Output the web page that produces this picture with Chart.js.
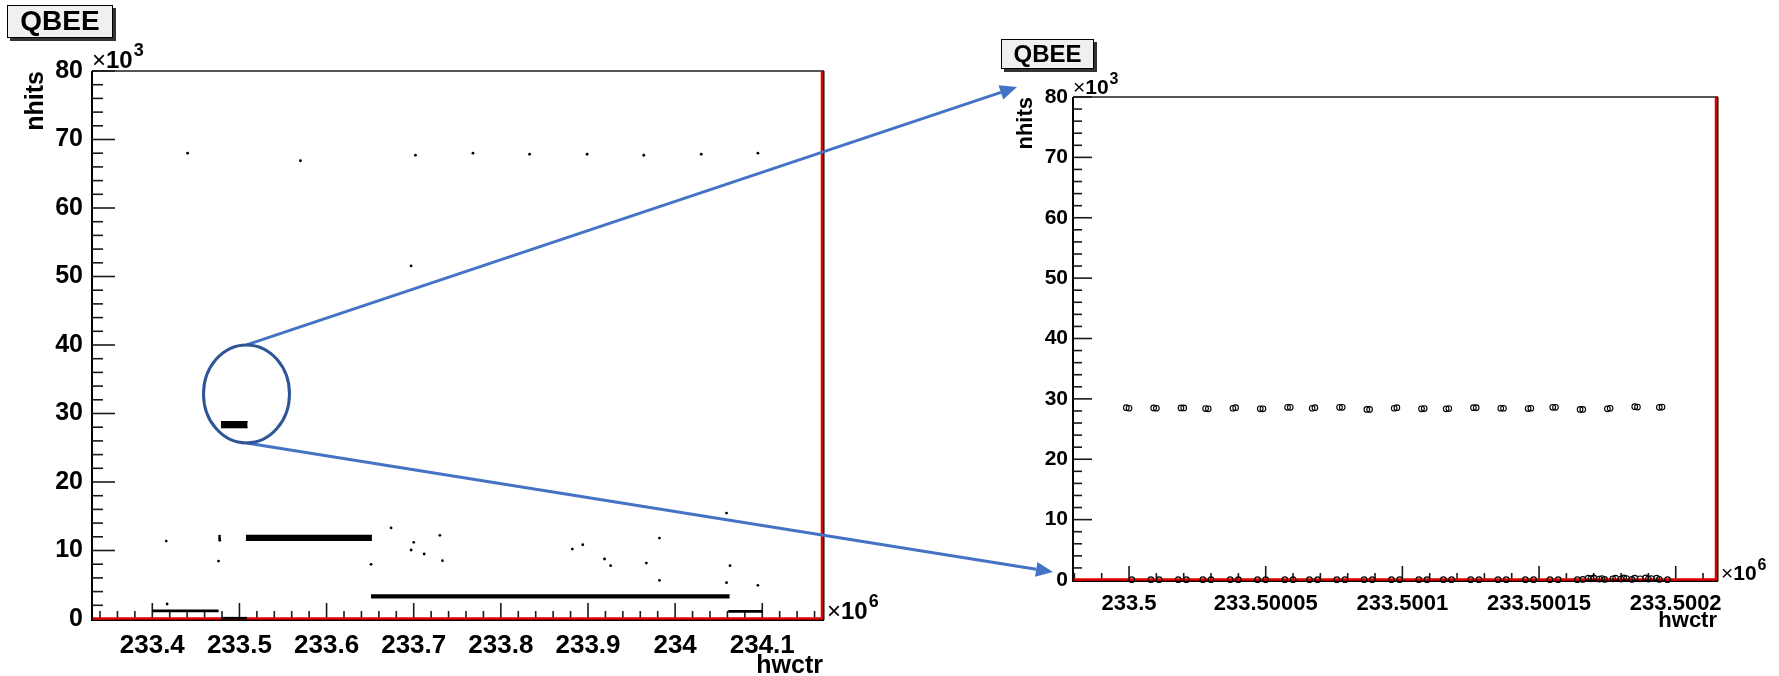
<!DOCTYPE html>
<html>
<head>
<meta charset="utf-8">
<script src="https://cdn.jsdelivr.net/npm/chart.js@4/dist/chart.umd.min.js"></script>
<style>
body{margin:0;background:#fff}
#wrap{position:relative;width:1779px;height:676px;overflow:hidden;background:#fff}
#wrap canvas{position:absolute;top:0}
#c1{left:0}
#c2{left:900px}
#ov{left:0;pointer-events:none}
</style>
</head>
<body>
<div id="wrap">
<canvas id="c1" width="900" height="676"></canvas>
<canvas id="c2" width="879" height="676"></canvas>
<canvas id="ov" width="1779" height="676"></canvas>
</div>
<script>
// left plot: hwctr in units of 1e6, nhits in units of 1e3
var dotX = [233.4405,233.570,233.702,233.768,233.833,233.899,233.964,234.030,234.095,
            233.697,
            233.416,233.476,233.417,233.651,233.674,233.700,233.697,233.712,233.730,233.733,
            233.882,233.894,233.919,233.926,233.967,233.982,233.982,234.059,234.063,234.059,234.095,
            233.4772,233.4772,233.4774];
var dotY = [68.0,66.9,67.7,68.0,67.85,67.85,67.7,67.85,68.0,
            51.55,
            11.38,8.46,2.19,7.98,13.3,11.19,10.07,9.49,12.21,8.51,
            10.21,10.84,8.76,7.78,8.17,11.82,5.65,15.47,7.78,5.30,4.92,
            12.1,11.8,11.5];
// dense runs of events (too many to list): first/last hwctr and nhits spread
var bandFrom = [233.4788,233.5075,233.651,233.400,234.061,233.479];
var bandTo   = [233.5094,233.652,234.0625,233.476,234.1008,233.5087];
var bandLow  = [27.95,11.5,3.12,1.08,1.04,0.02];
var bandHigh = [28.8,12.2,3.5,1.26,1.20,0.20];

// right plot: hwctr - 233500000, nhits in units of 1e3
var hiX = [-1,0,9,10,19,20,28,29,38,39,48,49,58,59,67,68,77,78,87,88,97,98,
           107,108,116,117,126,127,136,137,146,147,155,156,165,166,175,176,185,186,194,195];
var hiY = [28.55,28.45,28.5,28.45,28.5,28.5,28.4,28.35,28.45,28.55,28.35,28.35,
           28.6,28.6,28.45,28.55,28.6,28.6,28.25,28.25,28.45,28.55,28.35,28.4,
           28.35,28.4,28.55,28.55,28.45,28.45,28.4,28.45,28.6,28.6,28.25,28.25,
           28.35,28.45,28.7,28.65,28.6,28.65];
var loX = [1,8,11,18,21,27,30,37,40,47,50,57,60,66,69,76,79,86,89,96,99,106,109,
           115,118,125,128,135,138,145,148,154,157,164,
           166,168,169,170,172,173,174,177,178,180,181,182,184,185,187,189,190,191,193,194,
           197];
var loY = [0.05,0.05,0.05,0.05,0.05,0.05,0.05,0.05,0.05,0.05,0.05,0.05,0.05,0.05,0.05,
           0.05,0.05,0.05,0.05,0.05,0.05,0.05,0.05,0.05,0.05,0.05,0.05,0.05,0.05,0.05,
           0.05,0.05,0.05,0.05,
           0.1,0.3,0.2,0.35,0.15,0.25,0.1,0.2,0.3,0.15,0.35,0.25,0.1,0.3,0.2,0.35,0.15,0.25,0.3,0.1,
           0.05];

var xTicksL = [233.4,233.5,233.6,233.7,233.8,233.9,234,234.1];
var xLabelsL = ['233.4','233.5','233.6','233.7','233.8','233.9','234','234.1'];
var xTicksR = [0,50,100,150,200];
var xLabelsR = ['233.5','233.50005','233.5001','233.50015','233.5002'];
var yTicks = [0,10,20,30,40,50,60,70,80];
var yLabels = ['0','10','20','30','40','50','60','70','80'];

var FONT = '"Liberation Sans", Arial, Helvetica, sans-serif';

function pts(xs, ys) {
  var out = [];
  for (var i = 0; i < xs.length; i++) out.push({x: xs[i], y: ys[i]});
  return out;
}

function bandSets() {
  var sets = [];
  for (var i = 0; i < bandFrom.length; i++) {
    sets.push({type:'line', data:[{x:bandFrom[i],y:bandLow[i]},{x:bandTo[i],y:bandLow[i]}],
      borderColor:'#000', borderWidth:1.5, pointRadius:0, fill:false, clip:false});
    sets.push({type:'line', data:[{x:bandFrom[i],y:bandHigh[i]},{x:bandTo[i],y:bandHigh[i]}],
      borderColor:'#000', backgroundColor:'#000', borderWidth:1.5, pointRadius:0, fill:'-1', clip:false});
  }
  return sets;
}

function eachTick(min, max, minor, major, fn) {
  var k0 = Math.ceil(min / minor - 1e-7), k1 = Math.floor(max / minor + 1e-7);
  for (var k = k0; k <= k1; k++) {
    var v = k * minor, r = v / major;
    fn(v, Math.abs(r - Math.round(r)) < 1e-6);
  }
}

function frameTicks(t) {
  return {
    id: 'frameTicks',
    beforeDatasetsDraw: function(chart) {
      var ctx = chart.ctx, a = chart.chartArea, x = chart.scales.x, y = chart.scales.y;
      ctx.save();
      ctx.strokeStyle = '#555'; ctx.lineWidth = 2;
      ctx.beginPath(); ctx.moveTo(a.left, a.top); ctx.lineTo(a.right + 1, a.top); ctx.stroke();
      ctx.strokeStyle = '#000';
      ctx.beginPath(); ctx.moveTo(a.right + 0.5, a.top); ctx.lineTo(a.right + 0.5, a.bottom + 1); ctx.stroke();
      ctx.beginPath(); ctx.moveTo(a.left, a.top); ctx.lineTo(a.left, a.bottom + 1); ctx.lineTo(a.right + 1, a.bottom + 1); ctx.stroke();
      ctx.lineWidth = 1.6; ctx.strokeStyle = '#1a1a1a';
      eachTick(x.min, x.max, t.xMinor, t.xMajor, function(v, major) {
        var px = x.getPixelForValue(v);
        ctx.beginPath(); ctx.moveTo(px, a.bottom); ctx.lineTo(px, a.bottom - (major ? t.xLong : t.xShort)); ctx.stroke();
      });
      eachTick(y.min, y.max, 2, 10, function(v, major) {
        var py = y.getPixelForValue(v);
        ctx.beginPath(); ctx.moveTo(a.left, py); ctx.lineTo(a.left + (major ? t.yLong : t.yShort), py); ctx.stroke();
      });
      ctx.strokeStyle = '#e00000'; ctx.lineWidth = 2.5;
      var y0 = y.getPixelForValue(0) - 0.5;
      ctx.beginPath(); ctx.moveTo(a.left + 1, y0); ctx.lineTo(a.right, y0); ctx.stroke();
      ctx.beginPath(); ctx.moveTo(a.right - 1, a.top); ctx.lineTo(a.right - 1, a.bottom); ctx.stroke();
      ctx.restore();
    }
  };
}

function exponent(ctx, x, base, size, sup, supRaise) {
  ctx.font = size + 'px ' + FONT;
  ctx.fillText('\u00d7', x, base);
  var w = ctx.measureText('\u00d7').width;
  ctx.font = 'bold ' + size + 'px ' + FONT;
  ctx.fillText('10', x + w, base);
  w += ctx.measureText('10').width;
  ctx.font = 'bold ' + Math.round(size * 0.75) + 'px ' + FONT;
  ctx.fillText(sup, x + w + 1, base - supRaise);
}

function texts(t) {
  return {
    id: 'texts',
    afterDraw: function(chart) {
      var ctx = chart.ctx, a = chart.chartArea;
      ctx.save();
      // title box with shadow
      var b = t.box;
      ctx.fillStyle = '#333';
      ctx.fillRect(b[0] + 3, b[1] + 3, b[2], b[3]);
      ctx.fillStyle = '#f0f0f0';
      ctx.fillRect(b[0], b[1], b[2], b[3]);
      ctx.strokeStyle = '#000'; ctx.lineWidth = 1;
      ctx.strokeRect(b[0] + 0.5, b[1] + 0.5, b[2] - 1, b[3] - 1);
      ctx.fillStyle = '#000';
      ctx.font = 'bold ' + t.boxFont + 'px ' + FONT;
      ctx.textAlign = 'center'; ctx.textBaseline = 'middle';
      ctx.fillText('QBEE', b[0] + b[2] / 2, b[1] + b[3] / 2 + 1);
      // axis titles
      ctx.font = 'bold ' + t.size + 'px ' + FONT;
      ctx.textBaseline = 'alphabetic';
      ctx.textAlign = 'right';
      ctx.fillText('hwctr', a.right, t.xTitleBase);
      ctx.save();
      ctx.translate(t.yTitleBase, a.top);
      ctx.rotate(-Math.PI / 2);
      ctx.fillText('nhits', 0, 0);
      ctx.restore();
      // multipliers
      ctx.textAlign = 'left';
      exponent(ctx, a.left, a.top - 3, t.expSize, '3', t.supRaise);
      exponent(ctx, a.right + 4, a.bottom, t.expSize, '6', t.supRaise);
      ctx.restore();
    }
  };
}

function makeChart(id, datasets, xr, xTicks, xLabels, fx, fy, pad, yW, xH, labPad, frame, tx) {
  return new Chart(document.getElementById(id), {
    type: 'scatter',
    data: {datasets: datasets},
    options: {
      responsive: false, animation: false, devicePixelRatio: 1,
      layout: {padding: pad},
      plugins: {legend: {display: false}, tooltip: {enabled: false}},
      scales: {
        x: {
          type: 'linear', min: xr[0], max: xr[1],
          grid: {display: false, drawTicks: false}, border: {display: false},
          afterBuildTicks: function(s) { s.ticks = xTicks.map(function(v) { return {value: v}; }); },
          afterFit: function(s) { s.height = xH; },
          ticks: {autoSkip: false, maxRotation: 0, padding: labPad[0], color: '#000',
            font: {family: FONT, size: fx, weight: 'bold'},
            callback: function(v, i) { return xLabels[i]; }}
        },
        y: {
          type: 'linear', min: 0, max: 80,
          grid: {display: false, drawTicks: false}, border: {display: false},
          afterBuildTicks: function(s) { s.ticks = yTicks.map(function(v) { return {value: v}; }); },
          afterFit: function(s) { s.width = yW; },
          ticks: {autoSkip: false, padding: labPad[1], color: '#000',
            font: {family: FONT, size: fy, weight: 'bold'},
            callback: function(v, i) { return yLabels[i]; }}
        }
      }
    },
    plugins: [frameTicks(frame), texts(tx)]
  });
}

var leftSets = bandSets();
leftSets.push({data: pts(dotX, dotY), pointRadius: 1.4, pointBorderWidth: 0,
  backgroundColor: '#000', borderColor: '#000', clip: false});

var rightSets = [
  {data: pts(hiX, hiY), pointRadius: 2.8, pointBorderWidth: 1.1, borderColor: '#000',
   backgroundColor: 'rgba(0,0,0,0)', clip: false},
  {data: pts(loX, loY), pointRadius: 2.8, pointBorderWidth: 1.1, borderColor: '#000',
   backgroundColor: 'rgba(0,0,0,0)', clip: false}
];

var chartL = makeChart('c1', leftSets, [233.3308, 234.1697], xTicksL, xLabelsL, 26, 25,
  {left: 0, right: 77, top: 71, bottom: 0}, 92, 57, [11, 9],
  {xMinor: 0.02, xMajor: 0.1, xLong: 16, xShort: 8, yLong: 23, yShort: 11},
  {box: [7, 5, 106, 33], boxFont: 28, size: 25, xTitleBase: 673, yTitleBase: 43, expSize: 24, supRaise: 12});

var chartR = makeChart('c2', rightSets, [-20.5, 215.1], xTicksR, xLabelsR, 22, 21,
  {left: 0, right: 62, top: 97, bottom: 0}, 173, 96, [11, 5],
  {xMinor: 10, xMajor: 50, xLong: 14, xShort: 7, yLong: 19, yShort: 9},
  {box: [101, 39, 93, 30], boxFont: 24, size: 22, xTitleBase: 627, yTitleBase: 132, expSize: 21, supRaise: 10});

// zoom annotation: ellipse around the 28.5k run, arrows to the zoomed plot
var zoomCenter = [233.5081, 32.86];
(function drawOverlay() {
  var ctx = document.getElementById('ov').getContext('2d');
  var offR = 900;
  var cx = chartL.scales.x.getPixelForValue(zoomCenter[0]);
  var cy = chartL.scales.y.getPixelForValue(zoomCenter[1]);
  var rx = 43, ry = 49;
  var aR = chartR.chartArea;
  var tips = [[offR + aR.left - 56, chartR.scales.y.getPixelForValue(80) - 10],
              [offR + aR.left - 20, chartR.scales.y.getPixelForValue(0) - 8]];
  var starts = [[cx, cy - ry], [cx, cy + ry]];
  ctx.strokeStyle = '#4472c4'; ctx.fillStyle = '#4472c4'; ctx.lineWidth = 3;
  for (var i = 0; i < 2; i++) {
    var s = starts[i], e = tips[i];
    var ang = Math.atan2(e[1] - s[1], e[0] - s[0]);
    var L = 17, W = 7.5;
    var bx = e[0] - L * Math.cos(ang), by = e[1] - L * Math.sin(ang);
    ctx.beginPath(); ctx.moveTo(s[0], s[1]); ctx.lineTo(bx, by); ctx.stroke();
    ctx.beginPath();
    ctx.moveTo(e[0], e[1]);
    ctx.lineTo(bx + W * Math.sin(ang), by - W * Math.cos(ang));
    ctx.lineTo(bx - W * Math.sin(ang), by + W * Math.cos(ang));
    ctx.closePath(); ctx.fill();
  }
  ctx.strokeStyle = '#2f5597'; ctx.lineWidth = 3;
  ctx.beginPath(); ctx.ellipse(cx, cy, rx, ry, 0, 0, Math.PI * 2); ctx.stroke();
})();
</script>
</body>
</html>
